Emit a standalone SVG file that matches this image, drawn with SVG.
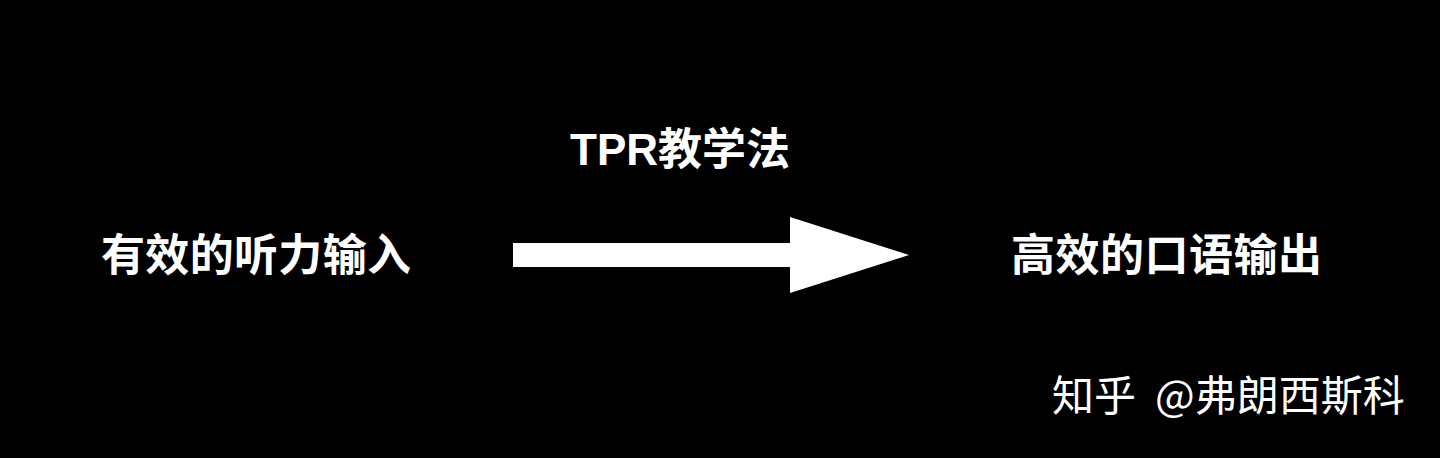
<svg xmlns="http://www.w3.org/2000/svg" width="1440" height="458" viewBox="0 0 1440 458">
<style>
.t{fill:#fff;font-family:"Noto Sans CJK SC","Liberation Sans",sans-serif;font-size:44px;font-weight:bold}
.w{fill:#fff;font-family:"Noto Sans CJK SC",sans-serif;font-size:42px;font-weight:normal}
.l{fill:#fff;font-family:"Liberation Sans","Noto Sans CJK SC",sans-serif;font-size:44px;font-weight:bold}
</style>
<rect width="1440" height="458" fill="#000"/>
<g id="input"><text class="t" x="101" y="271" textLength="310">有效的听力输入</text></g>
<g id="output"><text class="t" x="1011" y="271" textLength="311">高效的口语输出</text></g>
<g id="connectors">
<polygon points="513,243 790,243 790,217 909,255 790,293 790,267 513,267" fill="#fff"/>
<text class="l" x="570" y="165">TPR<tspan font-family="Noto Sans CJK SC,sans-serif">教学法</tspan></text>
</g>
<g id="watermark"><text class="w" x="1052" y="411">知乎<tspan x="1155">@弗朗西斯科</tspan></text></g>
</svg>
